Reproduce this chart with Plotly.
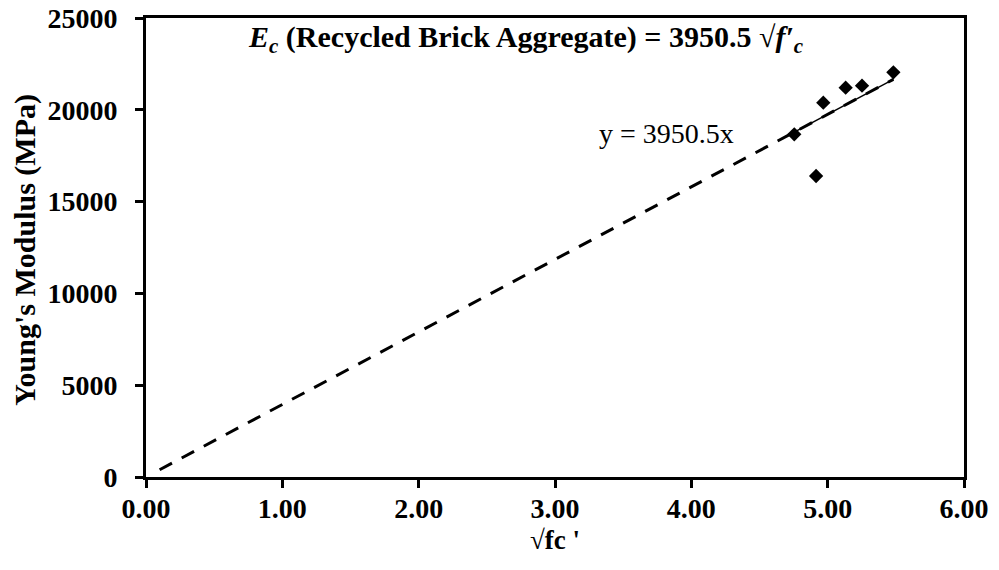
import plotly.graph_objects as go

# Measured square root of compressive strength (sqrt(MPa)) and Young's modulus (MPa)
sqrt_fc = [4.755, 4.915, 4.968, 5.132, 5.252, 5.482]
youngs_modulus = [18665, 16394, 20387, 21204, 21313, 22043]

# Linear trend forced through the origin: E = slope * sqrt(fc)
slope = 3950.5
trend_start = 0.1

x_ticks = [0, 1, 2, 3, 4, 5, 6]
y_ticks = [0, 5000, 10000, 15000, 20000, 25000]

FONT = "Liberation Serif"

trend_x = [trend_start, max(sqrt_fc)]
trend_y = [slope * v for v in trend_x]
fit_x = [min(sqrt_fc), max(sqrt_fc)]
fit_y = [slope * v for v in fit_x]

fig = go.Figure()

# thin solid fit over the data range
fig.add_trace(go.Scatter(
    x=fit_x, y=fit_y, mode="lines",
    line=dict(color="black", width=1.5),
    hoverinfo="skip", showlegend=False,
))

# dashed trend line extended back toward the origin
fig.add_trace(go.Scatter(
    x=trend_x, y=trend_y, mode="lines",
    line=dict(color="black", width=3, dash="14px,11px"),
    hoverinfo="skip", showlegend=False,
))

# measured points
fig.add_trace(go.Scatter(
    x=sqrt_fc, y=youngs_modulus, mode="markers",
    marker=dict(symbol="diamond", size=11, color="black"),
    showlegend=False,
))

# equation heading
fig.add_annotation(
    x=0.465, y=1.0, xref="paper", yref="paper", xanchor="center", yanchor="top",
    text="<b><i>E<sub>c</sub></i> (Recycled Brick Aggregate) = 3950.5 √<i>f′<sub>c</sub></i></b>",
    showarrow=False, font=dict(family=FONT, size=30, color="black"),
)

# trendline label
fig.add_annotation(
    x=3.82, y=18736, xref="x", yref="y",
    text=f"y = {slope}x",
    showarrow=False, font=dict(family=FONT, size=28, color="black"),
)

# y-axis title
fig.add_annotation(
    x=-0.148, y=0.495, xref="paper", yref="paper", xanchor="center", yanchor="middle",
    text="<b>Young's Modulus (MPa)</b>", textangle=-90,
    showarrow=False, font=dict(family=FONT, size=30, color="black"),
)

axis_common = dict(
    showline=True, linecolor="black", linewidth=3, mirror=True,
    ticks="outside", ticklen=8, tickwidth=3, tickcolor="black",
    showgrid=False, zeroline=False,
    tickfont=dict(family=FONT, size=28, color="black", weight="bold"),
)

fig.update_xaxes(
    range=[0, 6], tickvals=x_ticks, tickformat=".2f",
    ticklabelstandoff=-4,
    title=dict(text="<b>√fc '</b>", font=dict(family=FONT, size=27, color="black"), standoff=8),
    **axis_common,
)
fig.update_yaxes(
    range=[0, 25000], tickvals=y_ticks, tickformat="d",
    ticklabelstandoff=12,
    **axis_common,
)

fig.update_layout(
    width=999, height=570,
    margin=dict(l=146, r=35, t=18, b=93, autoexpand=False),
    plot_bgcolor="white", paper_bgcolor="white",
)

fig.write_html("out.html")
